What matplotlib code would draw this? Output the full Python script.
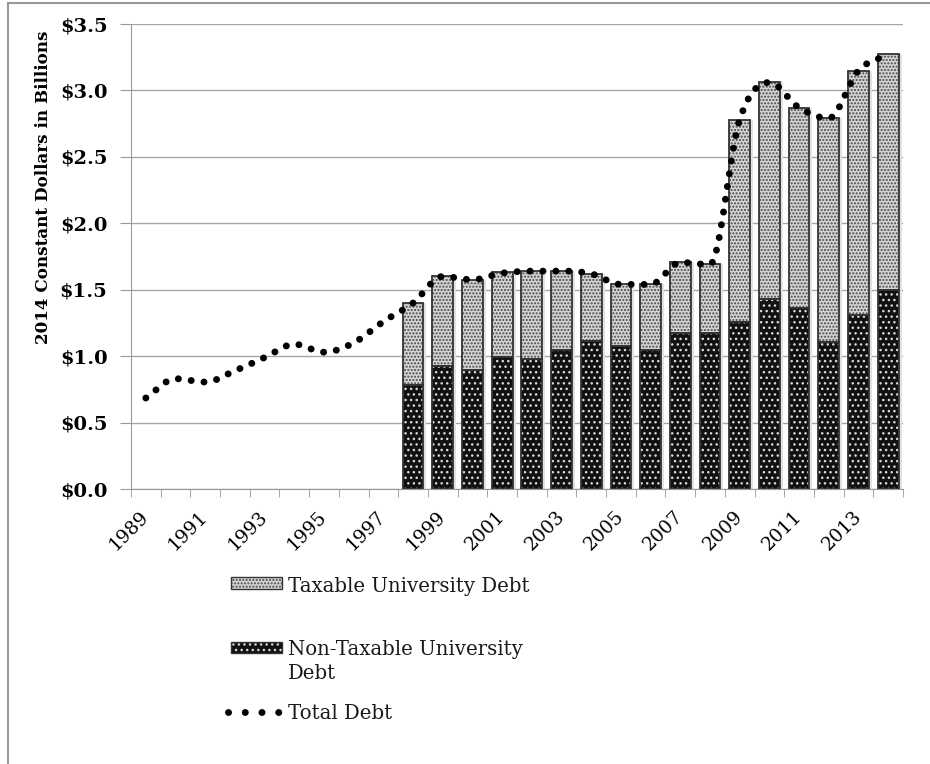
import numpy as np
import matplotlib
matplotlib.use('Agg')
import matplotlib.pyplot as plt
from matplotlib.path import Path
from matplotlib.patches import PathPatch, Rectangle
from matplotlib.lines import Line2D

plt.rcParams['font.family'] = 'DejaVu Serif'
plt.rcParams['hatch.linewidth'] = 1.0

# data (billions of 2014 dollars)
years = list(range(1989, 2015))
total_debt = [0.685, 0.83, 0.805, 0.89, 0.99, 1.09, 1.03, 1.10, 1.26,
              1.40, 1.60, 1.575, 1.625, 1.64, 1.64, 1.62, 1.54, 1.54,
              1.705, 1.69, 2.78, 3.06, 2.87, 2.79, 3.15, 3.27]
bar_years = list(range(1998, 2015))
non_taxable = [0.78, 0.925, 0.895, 0.995, 0.98, 1.045, 1.115, 1.075, 1.045,
               1.176, 1.176, 1.26, 1.427, 1.364, 1.104, 1.31, 1.497]
taxable = [0.62, 0.68, 0.68, 0.635, 0.66, 0.595, 0.505, 0.465, 0.495,
           0.53, 0.515, 1.52, 1.635, 1.505, 1.685, 1.84, 1.775]
tick_years = [str(y) if (y - 1989) % 2 == 0 else '' for y in years]

W, H = 930, 764
fig = plt.figure(figsize=(9.3, 7.64), dpi=100)
ax = fig.add_axes([131/W, 1 - 489/H, (903-131)/W, (489-24)/H])

xb = np.array([years.index(y) for y in bar_years])
nt = np.array(non_taxable)
tx = np.array(taxable)
bw = 0.7

# shadow
ax.bar(xb + 0.1, nt + tx, bw, color='#e2e2e2', zorder=1, linewidth=0)
# non-taxable: black with white dots
ax.bar(xb, nt, bw, color='#111111', edgecolor='#d8d8d8', hatch='...', linewidth=0, zorder=2)
ax.bar(xb, nt, bw, fill=False, edgecolor='#333333', linewidth=1.3, zorder=3)
# taxable: light stipple
ax.bar(xb, tx, bw, bottom=nt, color='#d4d4d4', edgecolor='#484848', hatch='.....', linewidth=0, zorder=2)
ax.bar(xb, tx, bw, bottom=nt, fill=False, edgecolor='#333333', linewidth=1.3, zorder=3)

# smoothed total debt line: bezier through the yearly values,
# flat tangents at local peaks/valleys so it does not overshoot
pts = np.column_stack([np.arange(len(years)), total_debt]).astype(float)
n = len(pts)
d = np.diff(pts[:, 1])
m = np.zeros(n)
m[0], m[-1] = d[0], d[-1]
for i in range(1, n - 1):
    if d[i - 1] * d[i] > 0:
        m[i] = (d[i - 1] + d[i]) / 2.0
        lim = 3 * min(abs(d[i - 1]), abs(d[i]))
        m[i] = np.sign(m[i]) * min(abs(m[i]), lim)
verts = [pts[0]]
codes = [Path.MOVETO]
for i in range(n - 1):
    p1, p2 = pts[i], pts[i + 1]
    verts += [p1 + np.array([1/3, m[i]/3]), p2 - np.array([1/3, m[i + 1]/3]), p2]
    codes += [Path.CURVE4] * 3
line = PathPatch(Path(verts, codes), fill=False, edgecolor='black', linewidth=5,
                 linestyle=(0, (0.01, 1.85)), capstyle='round', zorder=4)
ax.add_patch(line)

ax.set_xlim(-0.5, len(years) - 0.5)
ax.set_ylim(0, 3.5)
ax.set_yticks(np.arange(0, 3.51, 0.5))
ax.set_yticklabels(['$%.1f' % v for v in np.arange(0, 3.51, 0.5)],
                   fontsize=14, fontweight='bold')
ax.set_xticks(range(len(years)))
ax.set_xticklabels(tick_years, rotation=45, ha='right', va='center',
                   rotation_mode='anchor', fontsize=13.5)
ax.set_xticks(np.arange(-0.5, len(years)), minor=True)
ax.tick_params(axis='x', which='major', length=0, pad=18)
ax.tick_params(axis='x', which='minor', length=6, color='#999999', direction='out')
ax.tick_params(axis='y', length=8, color='#999999', pad=9)
ax.yaxis.grid(True, color='#a6a6a6', linewidth=1)
ax.set_axisbelow(True)
for s in ['top', 'right']:
    ax.spines[s].set_visible(False)
for s in ['left', 'bottom']:
    ax.spines[s].set_color('#999999')
ax.set_ylabel('2014 Constant Dollars in Billions', fontsize=12.1, fontweight='bold')
ax.yaxis.set_label_coords((52 - 131) / (903 - 131), (489 - 187.5) / 465)

# legend
def fx(x):
    return x / W

def fy(y):
    return 1 - y / H

fig.add_artist(Rectangle((fx(231), fy(589)), fx(51), 12/H, facecolor='#d4d4d4',
                         edgecolor='#484848', hatch='.....', linewidth=0, transform=fig.transFigure))
fig.add_artist(Rectangle((fx(231), fy(589)), fx(51), 12/H, fill=False,
                         edgecolor='#333333', linewidth=1, transform=fig.transFigure))
fig.add_artist(Rectangle((fx(231), fy(653)), fx(51), 11/H, facecolor='#111111',
                         edgecolor='#d8d8d8', hatch='...', linewidth=0, transform=fig.transFigure))
fig.add_artist(Rectangle((fx(231), fy(653)), fx(51), 11/H, fill=False,
                         edgecolor='#333333', linewidth=1, transform=fig.transFigure))
fig.add_artist(Line2D([fx(228), fx(279)], [fy(711.5), fy(711.5)], color='black',
                      linewidth=5, linestyle=(0, (0.01, 2.4)), dash_capstyle='round',
                      transform=fig.transFigure))
fig.text(fx(288), fy(591.5), 'Taxable University Debt', fontsize=14.2, va='baseline', color='#1a1a1a')
fig.text(fx(288), fy(655), 'Non-Taxable University', fontsize=14.2, va='baseline', color='#1a1a1a')
fig.text(fx(288), fy(679), 'Debt', fontsize=14.2, va='baseline', color='#1a1a1a')
fig.text(fx(288), fy(719), 'Total Debt', fontsize=14.2, va='baseline', color='#1a1a1a')

# outer frame lines of the original figure box
fig.add_artist(Line2D([fx(7.5), fx(7.5)], [fy(3), 0], color='#999999', linewidth=1.5,
                      transform=fig.transFigure))
fig.add_artist(Line2D([fx(7.5), 1], [fy(3), fy(3)], color='#999999', linewidth=1.5,
                      transform=fig.transFigure))

fig.savefig('out.png', dpi=100)
